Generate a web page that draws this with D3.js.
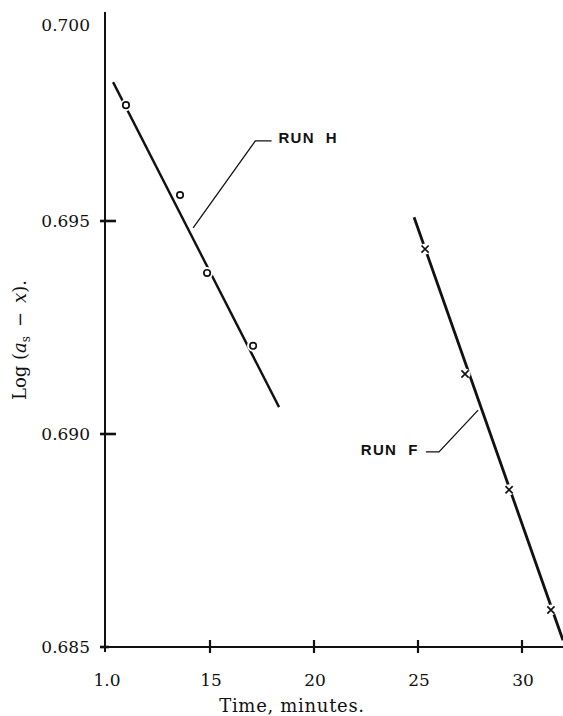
<!DOCTYPE html>
<html>
<head>
<meta charset="utf-8">
<script src="https://cdn.jsdelivr.net/npm/d3@7"></script>
<style>
  body { margin: 0; background: #fff; }
  svg { display: block; }
</style>
</head>
<body>
<div id="chart"></div>
<script>
// data
const xTicks = [10, 15, 20, 25, 30]
const xTickLabels = ["1.0", "15", "20", "25", "30"]
const yTicks = [0.685, 0.690, 0.695, 0.700]
const yTickLabels = ["0.685", "0.690", "0.695", "0.700"]

const runH_t = [10.96, 13.56, 14.86, 17.07]
const runH_y = [0.69772, 0.69561, 0.69378, 0.69207]
const runH_fitT = [10.34, 18.32]
const runH_fitY = [0.69826, 0.69063]

const runF_t = [25.34, 27.26, 29.38, 31.39]
const runF_y = [0.69434, 0.69141, 0.68869, 0.68587]
const runF_fitT = [24.81, 31.97]
const runF_fitY = [0.69509, 0.68516]

// label leaders, in data units
const labelH = { text: "RUN  H", at: [18.29, 0.69683], hEnd: [17.96, 0.69688], elbow: [17.18, 0.69688], target: [14.19, 0.69484] }
const labelF = { text: "RUN  F", at: [22.25, 0.68951], hEnd: [25.38, 0.68958], elbow: [26.01, 0.68958], target: [27.89, 0.69056] }

const W = 563, H = 716
const svg = d3.select("#chart").append("svg").attr("width", W).attr("height", H)

const x = d3.scaleLinear().domain([10, 30]).range([106, 522])
const y = d3.scaleLinear().domain([0.685, 0.695]).range([647, 221])

const serif = "'DejaVu Serif', serif"

//axes lines
svg.append("line").attr("x1", x(10) - 1).attr("x2", x(10) - 1)
    .attr("y1", 12).attr("y2", y(0.685) + 5)
    .attr("stroke", "#111").attr("stroke-width", 2)
svg.append("line").attr("x1", x(10) - 6).attr("x2", W)
    .attr("y1", y(0.685)).attr("y2", y(0.685))
    .attr("stroke", "#111").attr("stroke-width", 2)

// y ticks (no mark at top)
yTicks.filter(d => d < 0.6999).forEach(d => {
    svg.append("line").attr("x1", x(10) - 6).attr("x2", d === 0.685 ? x(10) + 3 : x(10) + 10)
        .attr("y1", y(d)).attr("y2", y(d))
        .attr("stroke", "#111").attr("stroke-width", 2.6)
})
yTicks.forEach((d, i) => {
    svg.append("text")
        .attr("x", 90).attr("y", y(d) + (d > 0.6999 ? 17 : 0))
        .attr("dy", "0.36em").attr("text-anchor", "end")
        .attr("font-family", serif).attr("font-size", 17).attr("fill", "#111")
        .text(yTickLabels[i])
})

// x ticks
xTicks.forEach((d, i) => {
    if (d > 10) {
        svg.append("line").attr("x1", x(d)).attr("x2", x(d))
            .attr("y1", y(0.685) - 7).attr("y2", y(0.685) + 6)
            .attr("stroke", "#111").attr("stroke-width", 2.2)
    }
    svg.append("text")
        .attr("x", x(d) + 1).attr("y", 686)
        .attr("text-anchor", "middle")
        .attr("font-family", serif).attr("font-size", 17).attr("fill", "#111")
        .text(xTickLabels[i])
})

// axis titles
svg.append("text").attr("x", 292).attr("y", 712)
    .attr("text-anchor", "middle")
    .attr("font-family", serif).attr("font-size", 18).attr("fill", "#111")
    .attr("letter-spacing", 0.7)
    .text("Time, minutes.")

const yl = svg.append("text")
    .attr("transform", "translate(26,340) rotate(-90)")
    .attr("text-anchor", "middle")
    .attr("font-family", serif).attr("font-size", 18).attr("fill", "#111")
yl.append("tspan").text("Log\u00a0(")
yl.append("tspan").attr("font-style", "italic").text("a")
yl.append("tspan").attr("font-size", 12).attr("dy", 4).text("s")
yl.append("tspan").attr("dy", -4).text("\u2002\u2212\u2002")
yl.append("tspan").attr("font-style", "italic").text("x")
yl.append("tspan").text(").")

// fitted lines
const line = d3.line().x(d => x(d[0])).y(d => y(d[1]))
svg.append("path").datum(d3.zip(runH_fitT, runH_fitY))
    .attr("d", line).attr("fill", "none").attr("stroke", "#111").attr("stroke-width", 2.4)
svg.append("path").datum(d3.zip(runF_fitT, runF_fitY))
    .attr("d", line).attr("fill", "none").attr("stroke", "#111").attr("stroke-width", 2.8)

// white gaps round the markers
svg.selectAll(".gapH").data(d3.zip(runH_t, runH_y)).join("circle")
    .attr("cx", d => x(d[0])).attr("cy", d => y(d[1])).attr("r", 6).attr("fill", "#fff")
svg.selectAll(".gapF").data(d3.zip(runF_t, runF_y)).join("circle")
    .attr("cx", d => x(d[0])).attr("cy", d => y(d[1])).attr("r", 5.5).attr("fill", "#fff")

// run H markers: open circles
svg.selectAll(".ptH").data(d3.zip(runH_t, runH_y)).join("circle")
    .attr("cx", d => x(d[0])).attr("cy", d => y(d[1])).attr("r", 3.2)
    .attr("fill", "#fff").attr("stroke", "#111").attr("stroke-width", 1.7)

// run F markers: crosses
const k = 3.6
svg.selectAll(".ptF").data(d3.zip(runF_t, runF_y)).join("path")
    .attr("d", `M${-k},${-k}L${k},${k}M${-k},${k}L${k},${-k}`)
    .attr("transform", d => `translate(${x(d[0])},${y(d[1])})`)
    .attr("fill", "none").attr("stroke", "#111").attr("stroke-width", 1.7)

// labels with leaders
;[labelH, labelF].forEach(l => {
    svg.append("path")
        .datum([l.hEnd, l.elbow, l.target])
        .attr("d", line).attr("fill", "none").attr("stroke", "#111").attr("stroke-width", 1.3)
    svg.append("text")
        .attr("x", x(l.at[0])).attr("y", y(l.at[1]))
        .attr("font-family", "'Liberation Sans', Arial, sans-serif")
        .attr("font-weight", "bold").attr("font-size", 15).attr("fill", "#111")
        .attr("letter-spacing", 1.3)
        .attr("xml:space", "preserve").style("white-space", "pre")
        .text(l.text)
})
</script>
</body>
</html>
